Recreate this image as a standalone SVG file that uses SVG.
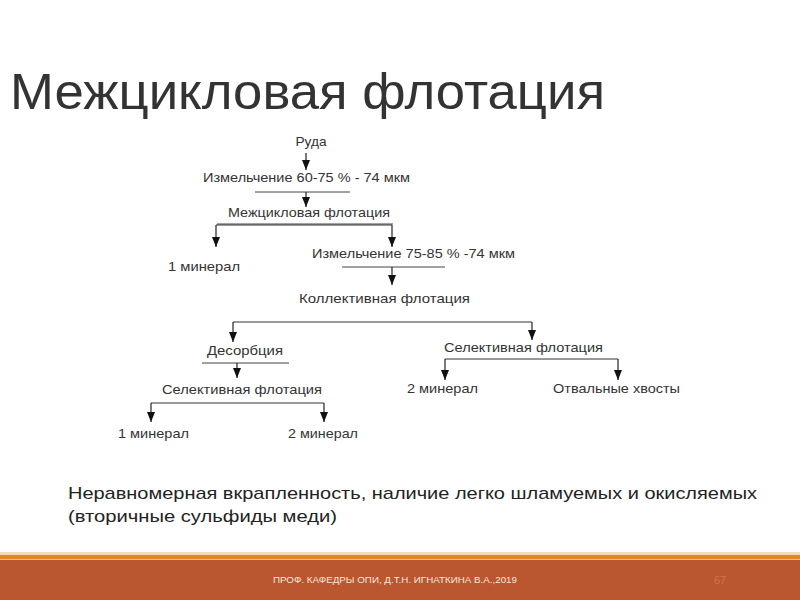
<svg xmlns="http://www.w3.org/2000/svg" width="800" height="600" viewBox="0 0 800 600">
<defs>
<marker id="ah" viewBox="0 0 10 8" refX="10" refY="4" markerWidth="10" markerHeight="8" markerUnits="userSpaceOnUse" orient="auto">
<path d="M0,0 L10,4 L0,8 z" fill="#111"/>
</marker>
<style>
.t{font-family:"Liberation Sans",Arial,sans-serif;font-size:13.5px;fill:#333;text-anchor:middle}
.c{stroke:#333;stroke-width:1.2;fill:none}
.a{stroke:#222;stroke-width:1.2;fill:none;marker-end:url(#ah)}
.u{stroke:#444;stroke-width:1;fill:none}
</style>
</defs>
<rect width="800" height="600" fill="#fff"/>
<text x="10" y="109" font-family="'Liberation Sans',Arial,sans-serif" font-size="50" fill="#333" textLength="595" lengthAdjust="spacingAndGlyphs">Межцикловая флотация</text>

<g id="n-ruda"><text class="t" x="311" y="146" textLength="31" lengthAdjust="spacingAndGlyphs">Руда</text></g>
<g id="n-izm1"><text class="t" x="306.5" y="182" textLength="207" lengthAdjust="spacingAndGlyphs">Измельчение 60-75 % - 74 мкм</text><line class="u" x1="255" y1="192" x2="350" y2="192"/></g>
<g id="n-mezh"><text class="t" x="309" y="217" textLength="162" lengthAdjust="spacingAndGlyphs">Межцикловая флотация</text><line class="u" x1="217" y1="224" x2="393" y2="224"/></g>
<g id="n-min1a"><text class="t" x="204" y="271" textLength="72" lengthAdjust="spacingAndGlyphs">1 минерал</text></g>
<g id="n-izm2"><text class="t" x="413.5" y="258" textLength="203" lengthAdjust="spacingAndGlyphs">Измельчение 75-85 % -74 мкм</text><line class="u" x1="342" y1="267" x2="445" y2="267"/></g>
<g id="n-koll"><text class="t" x="384.5" y="303" textLength="171" lengthAdjust="spacingAndGlyphs">Коллективная  флотация</text></g>
<g id="n-des"><text class="t" x="245" y="355" textLength="76" lengthAdjust="spacingAndGlyphs">Десорбция</text><line class="u" x1="202" y1="363" x2="289" y2="363"/></g>
<g id="n-sel1"><text class="t" x="242" y="394" textLength="160" lengthAdjust="spacingAndGlyphs">Селективная флотация</text></g>
<g id="n-min1b"><text class="t" x="153.5" y="438" textLength="71" lengthAdjust="spacingAndGlyphs">1 минерал</text></g>
<g id="n-min2b"><text class="t" x="323" y="438" textLength="70" lengthAdjust="spacingAndGlyphs">2 минерал</text></g>
<g id="n-sel2"><text class="t" x="523.5" y="352" textLength="159" lengthAdjust="spacingAndGlyphs">Селективная флотация</text></g>
<g id="n-min2a"><text class="t" x="442.5" y="393" textLength="71" lengthAdjust="spacingAndGlyphs">2 минерал</text></g>
<g id="n-hv"><text class="t" x="616.5" y="393" textLength="127" lengthAdjust="spacingAndGlyphs">Отвальные хвосты</text></g>

<g id="connectors">
<line class="a" x1="306" y1="153" x2="306" y2="170"/>
<line class="a" x1="306" y1="192" x2="306" y2="207"/>
<line class="c" x1="216" y1="225" x2="392" y2="225"/>
<line class="a" x1="216" y1="225" x2="216" y2="247"/>
<line class="a" x1="392" y1="225" x2="392" y2="247"/>
<line class="a" x1="392" y1="267" x2="392" y2="285"/>
<line class="c" x1="233" y1="322" x2="532" y2="322"/>
<line class="a" x1="233" y1="322" x2="233" y2="342"/>
<line class="a" x1="532" y1="322" x2="532" y2="340"/>
<line class="a" x1="237" y1="363" x2="237" y2="378"/>
<line class="c" x1="151" y1="403" x2="324" y2="403"/>
<line class="a" x1="151" y1="403" x2="151" y2="422"/>
<line class="a" x1="324" y1="403" x2="324" y2="422"/>
<line class="c" x1="445" y1="359" x2="618" y2="359"/>
<line class="a" x1="445" y1="359" x2="445" y2="380"/>
<line class="a" x1="618" y1="359" x2="618" y2="380"/>
</g>

<g font-family="'Liberation Sans',Arial,sans-serif" font-size="17" fill="#222">
<text x="68" y="499" textLength="689" lengthAdjust="spacingAndGlyphs">Неравномерная вкрапленность, наличие легко шламуемых и окисляемых</text>
<text x="68" y="522" textLength="269" lengthAdjust="spacingAndGlyphs">(вторичные сульфиды меди)</text>
</g>

<rect x="0" y="552" width="800" height="3" fill="#F6D9B8"/>
<rect x="0" y="555" width="800" height="4" fill="#E0892A"/>
<rect x="0" y="559" width="800" height="1" fill="#F2C08E"/>
<rect x="0" y="560" width="800" height="40" fill="#BA5630"/>
<text x="395" y="583" text-anchor="middle" font-family="'Liberation Sans',Arial,sans-serif" font-size="9" fill="#F7E6DA" textLength="244" lengthAdjust="spacingAndGlyphs">ПРОФ. КАФЕДРЫ ОПИ, Д.Т.Н. ИГНАТКИНА В.А.,2019</text>
<text x="720" y="584" text-anchor="middle" font-family="'Liberation Sans',Arial,sans-serif" font-size="11" fill="#CC7450">67</text>
</svg>
